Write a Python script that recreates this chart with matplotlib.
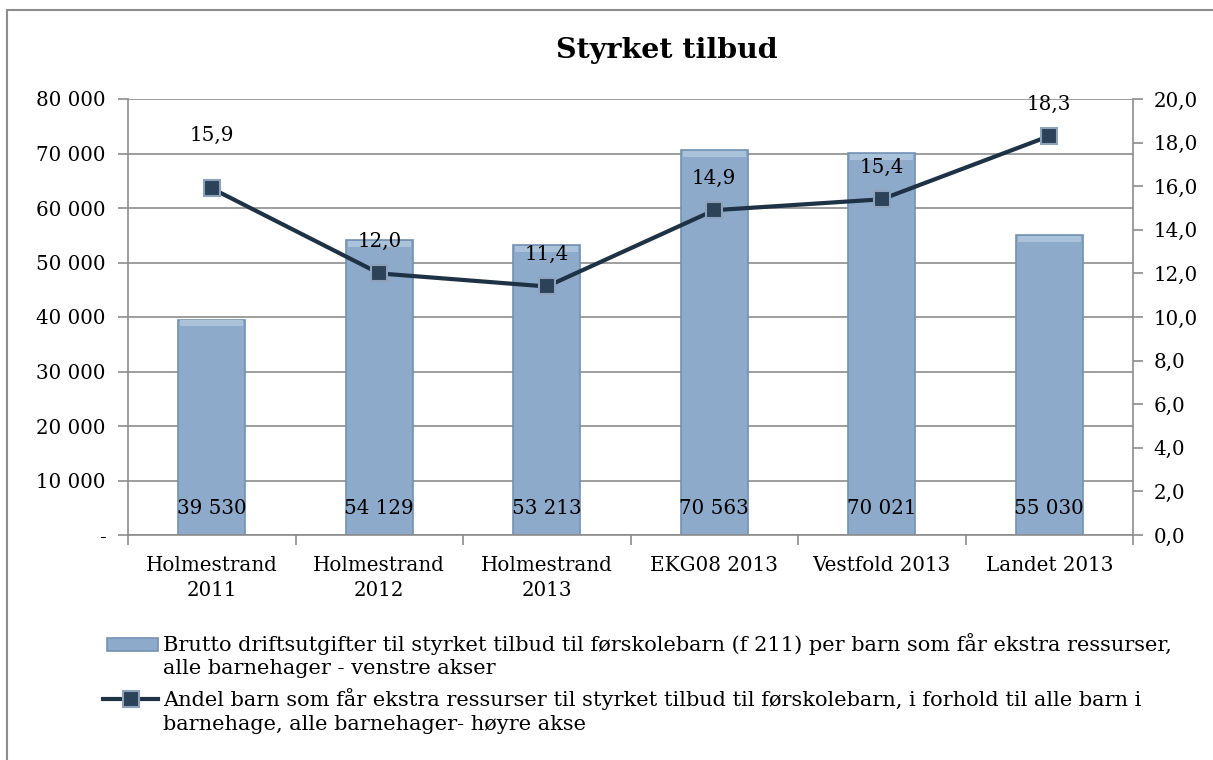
import matplotlib.pyplot as plt
from matplotlib.patches import Rectangle
from matplotlib.ticker import FuncFormatter, MultipleLocator
from matplotlib.lines import Line2D

categories = ["Holmestrand\n2011", "Holmestrand\n2012", "Holmestrand\n2013",
              "EKG08 2013", "Vestfold 2013", "Landet 2013"]
utgifter = [39530, 54129, 53213, 70563, 70021, 55030]
andel = [15.9, 12.0, 11.4, 14.9, 15.4, 18.3]

bar_label = ["Brutto driftsutgifter til styrket tilbud til førskolebarn (f 211) per barn som får ekstra ressurser,",
             "alle barnehager - venstre akser"]
line_label = ["Andel barn som får ekstra ressurser til styrket tilbud til førskolebarn, i forhold til alle barn i",
              "barnehage, alle barnehager- høyre akse"]

plt.rcParams['font.family'] = ['DejaVu Serif']
FS = 14.3

GRID = '#8c8c8c'
BAR = '#8eaacb'
BAR_EDGE = '#7391b3'
LINE = '#1e3246'
MFACE = '#2c4259'
MEDGE = '#8ea3bb'

W, H = 1213, 760
fig = plt.figure(figsize=(W / 100, H / 100), dpi=100)
ax = fig.add_axes([128/W, 1-535/H, (1133-128)/W, (535-99)/H])
ax2 = ax.twinx()

x = list(range(len(categories)))

# bars
bars = ax.bar(x, utgifter, width=0.4, color=BAR, edgecolor=BAR_EDGE, linewidth=1.2, zorder=2)
for b in bars:
    # light top band, hint of the bevel
    ax.add_patch(Rectangle((b.get_x() + 0.012, b.get_height() - 1200), b.get_width() - 0.024, 1100,
                           color='#abc2db', lw=0, zorder=2.5))
for xi, v in zip(x, utgifter):
    ax.text(xi, 4950, f"{v:,}".replace(",", " "), ha='center', va='center', fontsize=FS, zorder=3)

ax.set_ylim(0, 80000)
ax.set_xlim(-0.5, len(categories) - 0.5)
ax.yaxis.set_major_locator(MultipleLocator(10000))
ax.yaxis.set_major_formatter(FuncFormatter(lambda v, p: "-" if v == 0 else f"{int(v):,}".replace(",", " ")))
ax.grid(axis='y', color=GRID, linewidth=1.2, zorder=0)
ax.set_axisbelow(True)
ax.set_xticks(x)
ax.set_xticklabels(categories, fontsize=FS, linespacing=1.4)
ax.set_xticks([i - 0.5 for i in range(len(categories) + 1)], minor=True)
ax.tick_params(axis='x', which='major', length=0, pad=15)
ax.tick_params(axis='x', which='minor', length=7, color=GRID, width=1.2)
ax.tick_params(axis='y', length=7, color=GRID, width=1.2, pad=9, labelsize=FS)

# line on right axis
ax2.plot(x, andel, color=LINE, linewidth=3, marker='s', markersize=12,
         markerfacecolor=MFACE, markeredgecolor=MEDGE, markeredgewidth=1.5, zorder=4)
# Excel labels sit ~32 px above the point, the first one was dragged higher
lift = [2.43, 1.47, 1.47, 1.47, 1.47, 1.47]
for xi, v, d in zip(x, andel, lift):
    ax2.text(xi, v + d, f"{v:.1f}".replace(".", ","), ha='center', va='center', fontsize=FS,
             clip_on=False)
ax2.set_ylim(0, 20)
ax2.yaxis.set_major_locator(MultipleLocator(2))
ax2.yaxis.set_major_formatter(FuncFormatter(lambda v, p: f"{v:.1f}".replace(".", ",")))
ax2.tick_params(axis='y', length=7, color=GRID, width=1.2, pad=8, labelsize=FS)

for a in (ax, ax2):
    for s in a.spines.values():
        s.set_visible(False)
ax.spines['left'].set_visible(True)
ax.spines['bottom'].set_visible(True)
ax2.spines['right'].set_visible(True)
for s in (ax.spines['left'], ax.spines['bottom'], ax2.spines['right']):
    s.set_color(GRID)
    s.set_linewidth(1.2)

fig.text(667/W, 1-50/H, "Styrket tilbud", ha='center', va='center', fontsize=20.5, fontweight='bold')

# legend drawn by hand: handles line up with the first text line like in Excel
fig.add_artist(Rectangle((107/W, 1-651/H), 51/W, 13/H, transform=fig.transFigure,
                         facecolor=BAR, edgecolor=BAR_EDGE, linewidth=1.2))
fig.add_artist(Line2D([103/W, 158/W], [1-699/H, 1-699/H], transform=fig.transFigure,
                      color=LINE, linewidth=3))
fig.add_artist(Line2D([130.5/W], [1-699/H], transform=fig.transFigure, marker='s', markersize=12,
                      markerfacecolor=MFACE, markeredgecolor=MEDGE, markeredgewidth=1.5))
for ys, lines in (((644, 668), bar_label), ((699, 724), line_label)):
    for yy, txt in zip(ys, lines):
        fig.text(163/W, 1-yy/H, txt, ha='left', va='center', fontsize=15)

# outer frame, right and bottom edges fall outside the picture
fig.add_artist(Rectangle((7/W, -0.1), 1.1, 1.1 - 10/H, transform=fig.transFigure,
                         fill=False, edgecolor=GRID, linewidth=1.5))

fig.savefig("out.png", dpi=100)
